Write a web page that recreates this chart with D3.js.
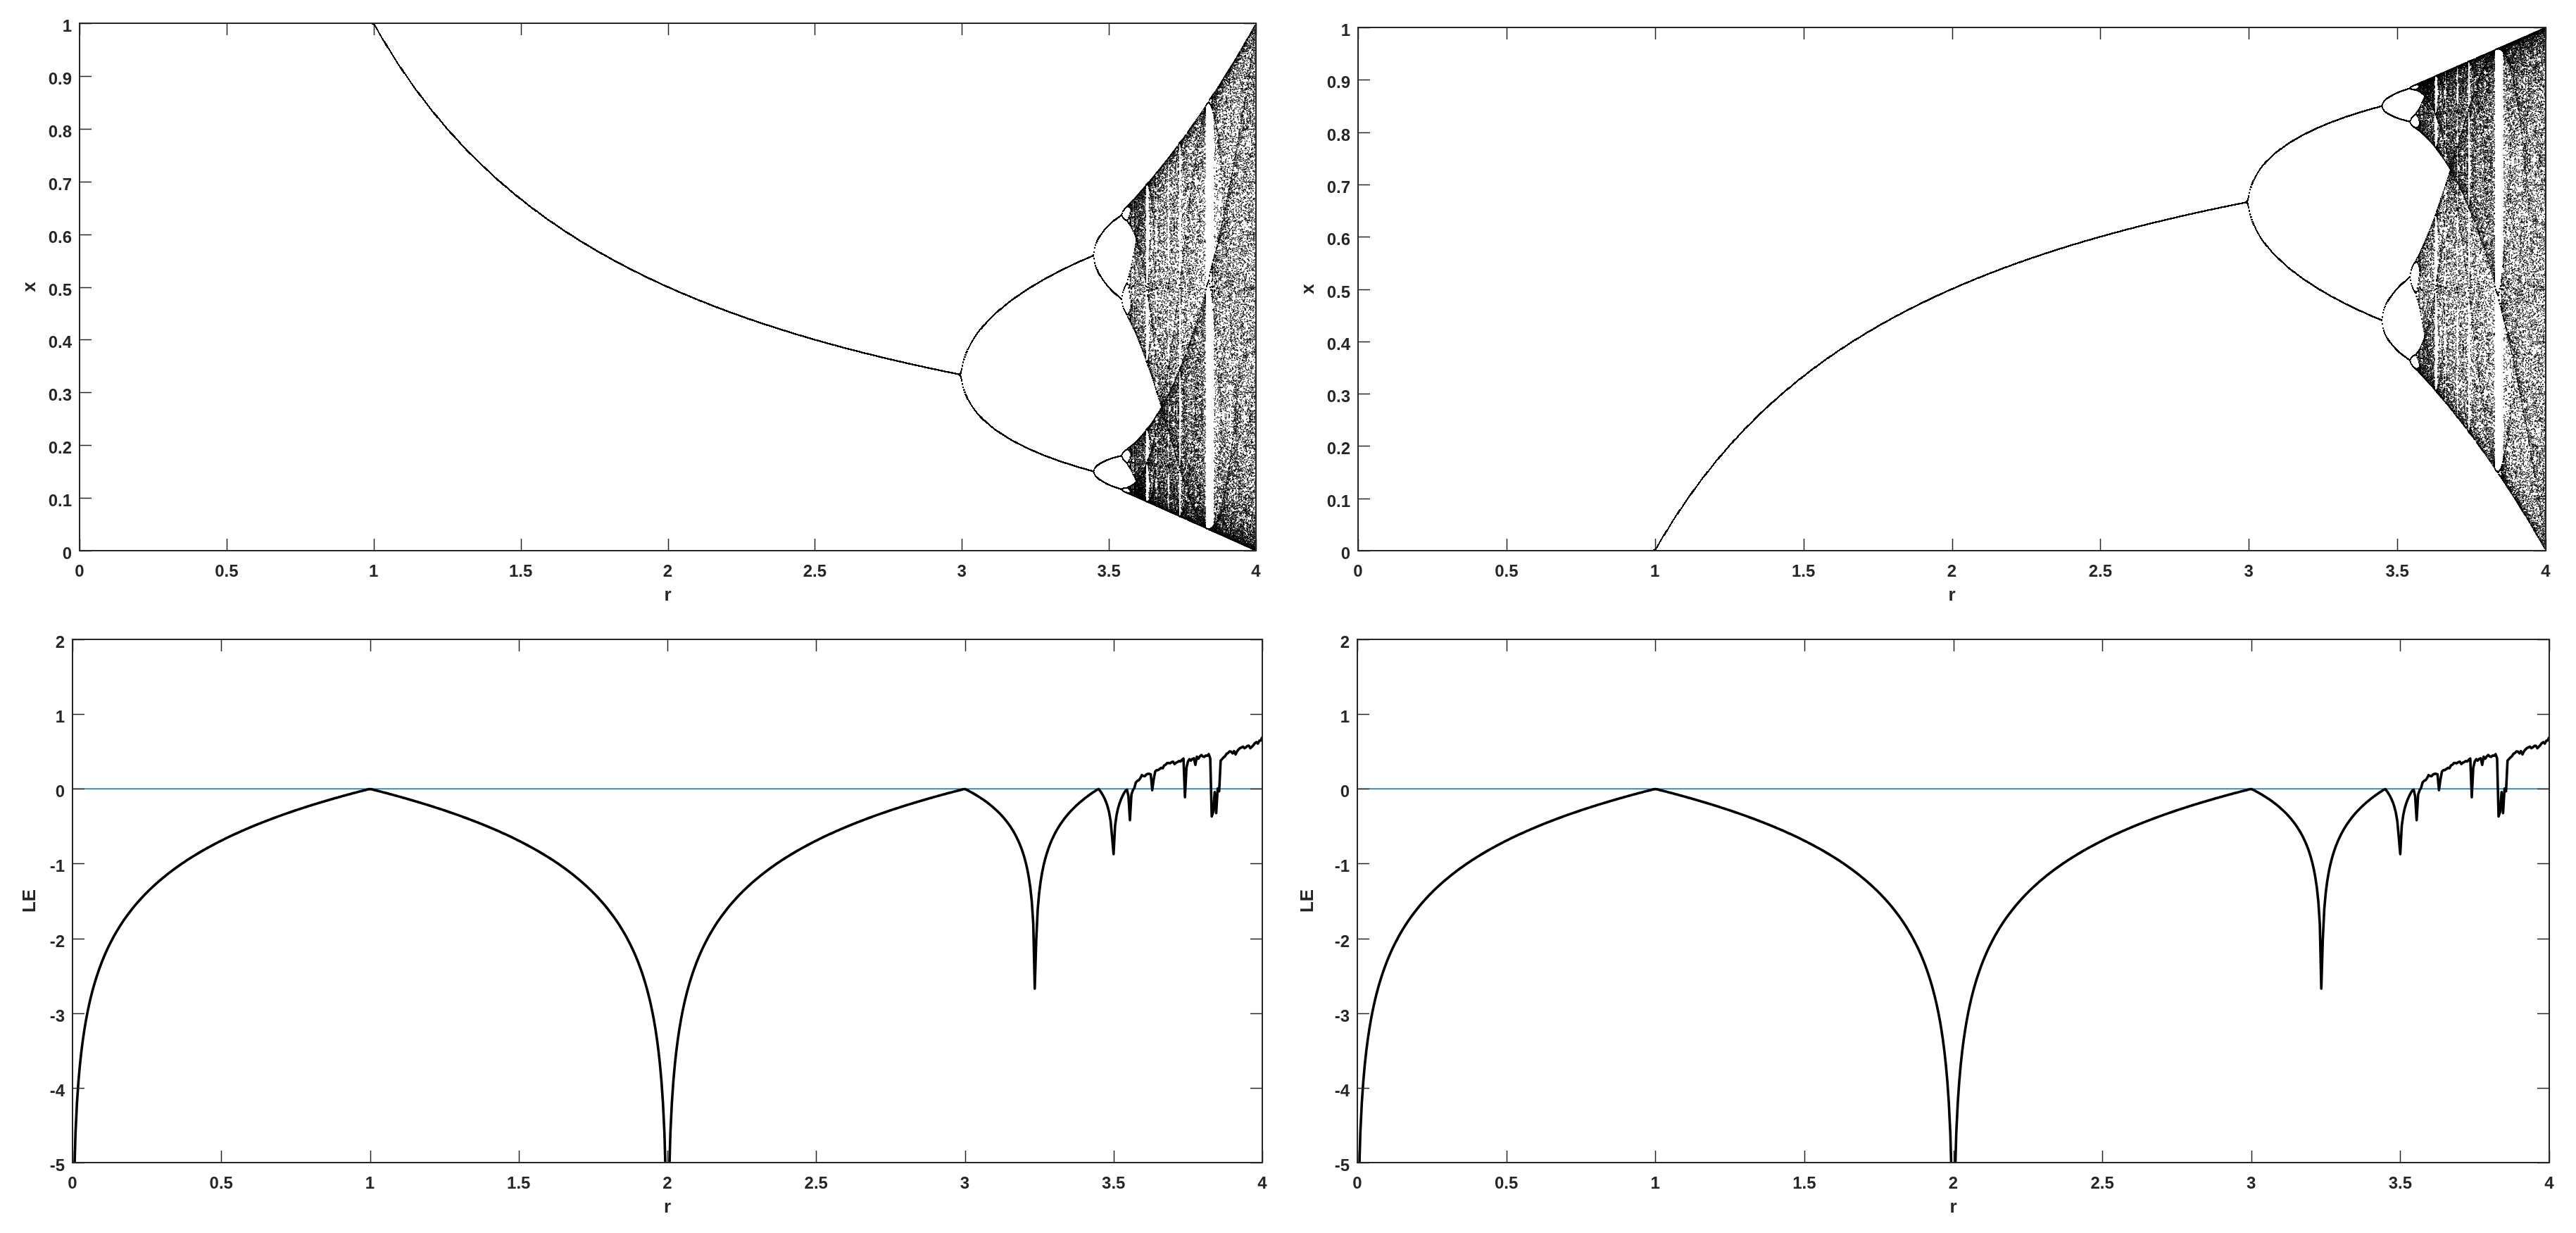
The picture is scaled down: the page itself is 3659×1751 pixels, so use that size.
<!DOCTYPE html>
<html>
<head>
<meta charset="utf-8">
<script src="https://cdn.jsdelivr.net/npm/d3@7"></script>
<style>
  html, body { margin: 0; padding: 0; background: #fff; }
  #wrap { position: relative; width: 3659px; height: 1751px; }
  canvas, svg { position: absolute; left: 0; top: 0; }
</style>
</head>
<body>
<div id="wrap">
  <canvas id="cv" width="3659" height="1751"></canvas>
  <svg id="sv" width="3659" height="1751"></svg>
</div>
<script>
// ---- model parameters (logistic map x -> r x (1 - x)) ----
const rDomain = [0, 4];
const bifurcationStep = 0.0025;   // r spacing of the bifurcation diagrams
const lyapunovStep = 0.005;       // r spacing of the Lyapunov exponent curve
const transientIterations = 400;
const keptIterations = 250;
const lyapunovIterations = 1000;
const initialX = 0.2;

// ---- axes / ticks ----
const xTicks = [0, 0.5, 1, 1.5, 2, 2.5, 3, 3.5, 4];
const xTickLabels = ["0", "0.5", "1", "1.5", "2", "2.5", "3", "3.5", "4"];
const yTicksTop = [0, 0.1, 0.2, 0.3, 0.4, 0.5, 0.6, 0.7, 0.8, 0.9, 1];
const yTickLabelsTop = ["0", "0.1", "0.2", "0.3", "0.4", "0.5", "0.6", "0.7", "0.8", "0.9", "1"];
const yTicksBottom = [-5, -4, -3, -2, -1, 0, 1, 2];
const yTickLabelsBottom = ["-5", "-4", "-3", "-2", "-1", "0", "1", "2"];
const yDomainTop = [0, 1];
const yDomainBottom = [-5, 2];
const zeroLine = [0];

// ---- generate orbits of the logistic map ----
const rGridBif = d3.range(Math.round((rDomain[1] - rDomain[0]) / bifurcationStep) + 1)
  .map(i => rDomain[0] + i * bifurcationStep);
const orbitPoints = [];
for (const r of rGridBif) {
  let x = initialX;
  for (let i = 0; i < transientIterations; i++) x = r * x * (1 - x);
  for (let i = 0; i < keptIterations; i++) { x = r * x * (1 - x); orbitPoints.push([r, x]); }
}
const rGridLE = d3.range(Math.round((rDomain[1] - rDomain[0]) / lyapunovStep) + 1)
  .map(i => rDomain[0] + i * lyapunovStep);
const lyapunov = rGridLE.map(r => {
  let x = initialX;
  for (let i = 0; i < transientIterations; i++) x = r * x * (1 - x);
  let s = 0;
  for (let i = 0; i < lyapunovIterations; i++) {
    x = r * x * (1 - x);
    s += Math.log(Math.abs(r * (1 - 2 * x)));
  }
  return [r, s / lyapunovIterations];
});

// ---- layout ----
const panels = [
  { id: "tl", x0: 113, x1: 1784, y0: 33, y1: 782, kind: "bif", flip: true, ylabel: "x" },
  { id: "tr", x0: 1929, x1: 3616, y0: 39, y1: 782, kind: "bif", flip: false, ylabel: "x" },
  { id: "bl", x0: 103, x1: 1793, y0: 908, y1: 1651, kind: "le", ylabel: "LE" },
  { id: "br", x0: 1928, x1: 3621, y0: 908, y1: 1651, kind: "le", ylabel: "LE" }
];

const FONT = "'Liberation Sans', Arial, Helvetica, sans-serif";
const TXT = "#262626";
const svg = d3.select("#sv");
const ctx = document.getElementById("cv").getContext("2d");
const defs = svg.append("defs");

panels.forEach(p => {
  const xs = d3.scaleLinear().domain(rDomain).range([p.x0, p.x1]);
  const ys = d3.scaleLinear().domain(p.kind === "bif" ? yDomainTop : yDomainBottom).range([p.y1, p.y0]);
  const yt = p.kind === "bif" ? yTicksTop : yTicksBottom;
  const ytl = p.kind === "bif" ? yTickLabelsTop : yTickLabelsBottom;

  defs.append("clipPath").attr("id", "clip-" + p.id)
    .append("rect").attr("x", p.x0).attr("y", p.y0)
    .attr("width", p.x1 - p.x0).attr("height", p.y1 - p.y0);

  const g = svg.append("g");

  if (p.kind === "bif") {
    ctx.save();
    ctx.beginPath();
    ctx.rect(p.x0, p.y0 - 1, p.x1 - p.x0 + 1, p.y1 - p.y0 + 2);
    ctx.clip();
    ctx.fillStyle = "#000";
    const s = 1.3;
    for (const [r, x] of orbitPoints) {
      const v = p.flip ? 1 - x : x;
      ctx.fillRect(xs(r) - s / 2, ys(v) - s / 2, s, s);
    }
    ctx.restore();
  } else {
    const gc = g.append("g").attr("clip-path", "url(#clip-" + p.id + ")");
    gc.selectAll("line.zero").data(zeroLine).join("line")
      .attr("x1", xs(rDomain[0])).attr("x2", xs(rDomain[1]))
      .attr("y1", d => ys(d)).attr("y2", d => ys(d))
      .attr("stroke", "#0072BD").attr("stroke-width", 1.6);
    const line = d3.line().defined(d => isFinite(d[1]))
      .x(d => xs(d[0])).y(d => ys(Math.max(d[1], -60)));
    gc.append("path").datum(lyapunov).attr("d", line)
      .attr("fill", "none").attr("stroke", "#000")
      .attr("stroke-width", 3.6).attr("stroke-linejoin", "round");
  }

  // ticks (inward, all four sides)
  const tl = 17;
  const tk = g.append("g").attr("stroke", TXT).attr("stroke-width", 1.5);
  xTicks.forEach(t => {
    const x = Math.round(xs(t)) + 0.5;
    tk.append("line").attr("x1", x).attr("x2", x).attr("y1", p.y1).attr("y2", p.y1 - tl);
    tk.append("line").attr("x1", x).attr("x2", x).attr("y1", p.y0).attr("y2", p.y0 + tl);
  });
  yt.forEach(t => {
    const y = Math.round(ys(t)) + 0.5;
    tk.append("line").attr("x1", p.x0).attr("x2", p.x0 + tl).attr("y1", y).attr("y2", y);
    tk.append("line").attr("x1", p.x1).attr("x2", p.x1 - tl).attr("y1", y).attr("y2", y);
  });
  // box
  g.append("rect").attr("x", p.x0).attr("y", p.y0)
    .attr("width", p.x1 - p.x0).attr("height", p.y1 - p.y0)
    .attr("fill", "none").attr("stroke", TXT).attr("stroke-width", 2);

  // tick labels
  const lab = g.append("g").attr("font-family", FONT).attr("font-weight", "bold")
    .attr("font-size", 24).attr("fill", TXT);
  xTicks.forEach((t, i) => {
    lab.append("text").attr("x", xs(t)).attr("y", p.y1 + 37)
      .attr("text-anchor", "middle").text(xTickLabels[i]);
  });
  yt.forEach((t, i) => {
    lab.append("text").attr("x", p.x0 - 11).attr("y", ys(t) + 12)
      .attr("text-anchor", "end").text(ytl[i]);
  });

  // axis labels
  const cx = (p.x0 + p.x1) / 2, cy = (p.y0 + p.y1) / 2;
  g.append("text").attr("x", cx).attr("y", p.y1 + 71)
    .attr("text-anchor", "middle").attr("font-family", FONT).attr("font-weight", "bold")
    .attr("font-size", 26).attr("fill", TXT).text("r");
  const ylx = p.id === "tl" || p.id === "bl" ? 50 : 50 + (p.x0 - 113);
  g.append("text").attr("transform", `translate(${ylx},${cy}) rotate(-90)`)
    .attr("text-anchor", "middle").attr("font-family", FONT).attr("font-weight", "bold")
    .attr("font-size", 26).attr("fill", TXT).text(p.ylabel);
});
</script>
</body>
</html>
